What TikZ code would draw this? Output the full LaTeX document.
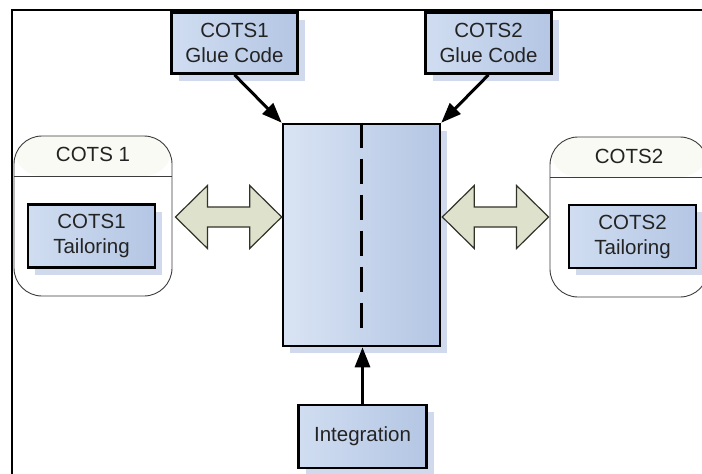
\documentclass[tikz,border=0pt]{standalone}
\usepackage{fontspec}
\setmainfont{Liberation Sans}
\usetikzlibrary{arrows.meta,shadows,calc}

\definecolor{boxL}{RGB}{208,221,241}
\definecolor{boxR}{RGB}{180,198,228}
\definecolor{shadowblue}{RGB}{208,218,236}
\definecolor{arrowfill}{RGB}{222,226,204}
\definecolor{arrowline}{RGB}{50,50,40}
\definecolor{frameline}{RGB}{60,60,60}
\definecolor{headfill}{RGB}{250,250,244}
\definecolor{txt}{RGB}{35,35,35}

\begin{document}
\begin{tikzpicture}[x=1pt,y=-1pt,
  every node/.style={font=\fontsize{20.5}{25}\selectfont, text=txt, align=center, inner sep=0pt},
  bluebox/.style={draw=black, line width=2.6pt, left color=boxL, right color=boxR,
    minimum width=126pt, minimum height=61pt,
    drop shadow={shadow xshift=7pt, shadow yshift=-7pt, fill=shadowblue, opacity=1}},
  corebox/.style={draw=black, line width=2.6pt, left color=boxL!80!white, right color=boxR,
    minimum width=157pt, minimum height=222pt,
    drop shadow={shadow xshift=7pt, shadow yshift=-7pt, fill=shadowblue, opacity=1}},
  container/.style={draw=frameline, line width=0.9pt, fill=white, rounded corners=28pt,
    minimum width=158pt, minimum height=160pt,
    path picture={
      \fill[headfill] (path picture bounding box.north west) rectangle
        ($(path picture bounding box.north east)+(0,40)$);
      \draw[frameline, line width=0.9pt]
        ($(path picture bounding box.north west)+(0,40)$) --
        ($(path picture bounding box.north east)+(0,40)$);}},
  feed/.style={line width=3pt, -{Triangle[length=20pt,width=15pt]}},
  twoway/.style={draw=arrowline, line width=1.2pt, fill=arrowfill, line join=miter},
  frame/.style={line width=2pt, black}]

\useasboundingbox (0,0) rectangle (702,474);
\clip (0,0) rectangle (702,474);

% outer frame (left and top edges)
\coordinate (fbl) at (12,474);
\coordinate (ftl) at (12,10);
\coordinate (ftr) at (702,10);
\draw[frame] (fbl) -- (ftl) -- (ftr);

% COTS containers with their header bands
\node[container] (c1) at (93,216) {};
\node[container] (c2) at (629,217) {};
\node at ($(c1.north)+(0,19)$) {COTS 1};
\node at ($(c2.north)+(0,20)$) {COTS2};

% tailoring boxes inside the containers
\node[bluebox, minimum width=127pt, minimum height=63pt] (t1) at (91.5,236) {COTS1\\Tailoring};
\node[bluebox, minimum width=127pt, minimum height=63pt] (t2) at (632.5,236.5) {COTS2\\Tailoring};

% central integration block
\node[corebox] (core) at (361.5,235) {};
\draw[line width=2pt, dash pattern=on 25pt off 11pt, boxR!75!white]
  ($(core.north)+(7,7)$) -- ($(core.south)+(7,-2)$);
\draw[line width=2.6pt, dash pattern=on 25pt off 11pt]
  (core.north) -- ($(core.south)+(0,-9)$);

% glue code and integration boxes
\node[bluebox] (g1) at (234.5,43) {COTS1\\Glue Code};
\node[bluebox] (g2) at (488.5,43) {COTS2\\Glue Code};
\node[bluebox, minimum width=128pt, minimum height=63pt] (integ) at (362.5,436.5) {Integration};

% feeding arrows
\draw[feed] (g1.south) -- (core.north west);
\draw[feed] (g2.south) -- (core.north east);
\draw[feed] (integ.north) -- (integ.north |- core.south);

% two-way block arrows between containers and the central block
\coordinate (row) at (0,217);
\coordinate (la) at ($(c1.east |- row)+(3,0)$);
\coordinate (ra) at (core.west |- row);
\coordinate (lb) at ($(core.east |- row)+(1,0)$);
\coordinate (rb) at ($(c2.west |- row)+(-1,0)$);
\foreach \a/\b in {la/ra, lb/rb}{
  \draw[twoway] let \p1=(\a), \p2=(\b) in
    (\x1,\y1) -- (\x1+32pt,\y1+31.5pt) -- (\x1+32pt,\y1+10pt) --
    (\x2-32pt,\y1+10pt) -- (\x2-32pt,\y1+31.5pt) -- (\x2,\y1) --
    (\x2-32pt,\y1-31.5pt) -- (\x2-32pt,\y1-10pt) -- (\x1+32pt,\y1-10pt) --
    (\x1+32pt,\y1-31.5pt) -- cycle;
}
\end{tikzpicture}
\end{document}
